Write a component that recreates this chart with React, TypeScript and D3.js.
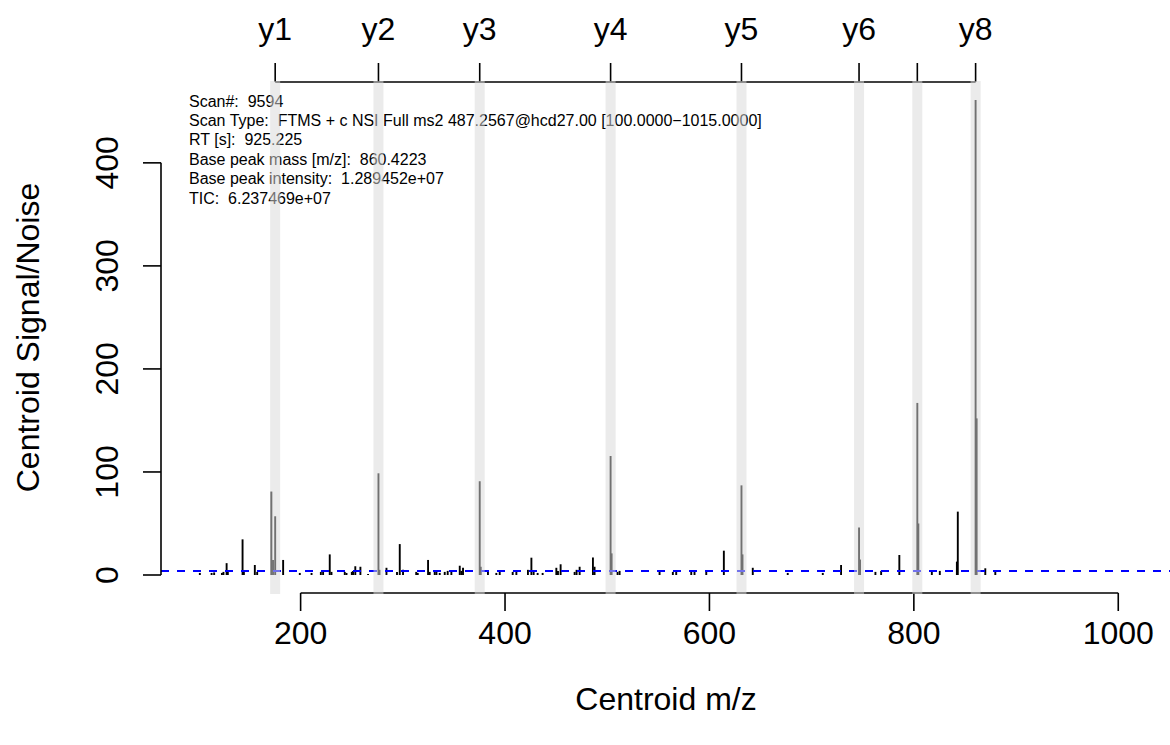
import React, { useEffect, useRef } from "react";
import * as d3 from "d3";

// Centroid peaks (m/z, signal/noise)
const peakMz = [
  101.4, 112.9, 115.4, 123.0, 124.5, 127.6, 128.8, 143.2, 144.5, 155.2, 157.5,
  171.4, 173.0, 175.12, 182.9, 199.2, 210.7, 219.8, 222.0, 228.5, 230.2, 243.2,
  244.9, 250.1, 251.3, 253.5, 258.5, 266.0, 276.17, 277.17, 284.0, 294.3, 297.0,
  300.2, 313.1, 314.6, 324.7, 326.3, 331.2, 332.9, 336.1, 341.0, 343.9, 347.5,
  355.7, 357.3, 358.9, 375.24, 376.24, 383.3, 391.5, 394.8, 407.5, 411.1, 422.4,
  425.8, 428.0, 431.9, 436.8, 450.2, 451.8, 454.4, 468.1, 470.0, 473.0, 486.0,
  487.6, 503.29, 504.29, 510.1, 512.1, 551.2, 564.2, 567.5, 582.2, 585.4, 596.9,
  614.1, 631.35, 632.35, 642.4, 676.6, 710.9, 728.8, 746.38, 747.38, 762.4,
  768.0, 785.8, 803.4, 804.4, 817.6, 825.4, 842.1, 843.0, 860.42, 861.43, 869.9,
  879.7,
];
const peakSN = [
  2, 2, 2.5, 2, 3, 11.5, 3, 34.6, 3, 9.7, 3,
  81, 14.5, 57, 14.6, 2, 2, 3, 4, 20, 3, 3,
  2, 3, 4, 8.5, 8, 1, 98.7, 5, 7, 3, 30,
  5, 3, 2, 14.6, 3, 4, 3, 2, 3, 4, 3,
  9, 4, 7, 91, 8, 3, 2, 4, 3, 3, 5,
  16.8, 4, 2, 2, 7, 4, 10.4, 3, 5, 8, 17,
  8, 115.5, 21, 3, 4, 3, 3, 3, 3, 3, 3,
  23.6, 87, 20, 7, 2, 2, 9.7, 46, 15, 3,
  4, 19.4, 167, 50, 3, 4, 13, 61.5, 461, 152, 6.5,
  3,
];

// Annotated fragment ions
const ionLabels = ["y1", "y2", "y3", "y4", "y5", "y6", "y7", "y8"];
const ionMz = [175.119, 276.167, 375.235, 503.293, 631.352, 746.379, 803.4, 860.422];
const ionLabelShown = [true, true, true, true, true, true, false, true];

const xTicks = [200, 400, 600, 800, 1000];
const yTicks = [0, 100, 200, 300, 400];
const scanRange = [100, 1015];
const noiseLevel = 4;

const infoLines = [
  "Scan#:  9594",
  "Scan Type:  FTMS + c NSI Full ms2 487.2567@hcd27.00 [100.0000\u22121015.0000]",
  "RT [s]:  925.225",
  "Base peak mass [m/z]:  860.4223",
  "Base peak intensity:  1.289452e+07",
  "TIC:  6.237469e+07",
];

const FONT = "'Liberation Sans', Arial, Helvetica, sans-serif";

export default function App() {
  const ref = useRef<SVGSVGElement>(null);

  useEffect(() => {
    document.body.style.margin = "0";
    const svg = d3.select(ref.current);
    svg.selectAll("*").remove();

    const left = 161, right = 1171, top = 81, bottom = 594;
    const xr = scanRange[1] - scanRange[0];
    const x = d3
      .scaleLinear()
      .domain([scanRange[0] - 0.04 * xr, scanRange[1] + 0.04 * xr])
      .range([left, right]);
    const ymax = d3.max(peakSN) as number;
    const y = d3
      .scaleLinear()
      .domain([-0.04 * ymax, 1.04 * ymax])
      .range([bottom, top]);

    const tickLen = 18;
    const g = svg.append("g").style("font-family", FONT);

    // info text
    g.append("g")
      .selectAll("text")
      .data(infoLines)
      .join("text")
      .attr("x", 189)
      .attr("y", (_d, i) => 106.5 + i * 19.4)
      .attr("font-size", 16)
      .attr("fill", "#000")
      .style("white-space", "pre")
      .attr("xml:space", "preserve")
      .text((d) => d);

    // peaks
    const peaks = peakMz.map((m, i) => ({ m, v: peakSN[i] }));
    g.append("g")
      .selectAll("line")
      .data(peaks)
      .join("line")
      .attr("x1", (d) => x(d.m))
      .attr("x2", (d) => x(d.m))
      .attr("y1", y(0))
      .attr("y2", (d) => y(d.v))
      .attr("stroke", "#000")
      .attr("stroke-width", 1.9);

    // noise line
    g.append("line")
      .attr("x1", left)
      .attr("x2", right)
      .attr("y1", y(noiseLevel))
      .attr("y2", y(noiseLevel))
      .attr("stroke", "#0000ff")
      .attr("stroke-width", 2)
      .attr("stroke-dasharray", "8,8");

    // bottom axis
    const xa = g.append("g");
    xa.append("line")
      .attr("x1", x(xTicks[0]))
      .attr("x2", x(xTicks[xTicks.length - 1]))
      .attr("y1", 593)
      .attr("y2", 593)
      .attr("stroke", "#000")
      .attr("stroke-width", 1.6);
    xa.selectAll("line.tick")
      .data(xTicks)
      .join("line")
      .attr("class", "tick")
      .attr("x1", (d) => x(d))
      .attr("x2", (d) => x(d))
      .attr("y1", 593)
      .attr("y2", 593 + tickLen)
      .attr("stroke", "#000")
      .attr("stroke-width", 1.6);
    xa.selectAll("text")
      .data(xTicks)
      .join("text")
      .attr("x", (d) => x(d))
      .attr("y", 643.5)
      .attr("text-anchor", "middle")
      .attr("font-size", 32)
      .text((d) => String(d));

    // left axis
    const ya = g.append("g");
    ya.append("line")
      .attr("x1", left)
      .attr("x2", left)
      .attr("y1", y(yTicks[0]))
      .attr("y2", y(yTicks[yTicks.length - 1]))
      .attr("stroke", "#000")
      .attr("stroke-width", 1.6);
    ya.selectAll("line.tick")
      .data(yTicks)
      .join("line")
      .attr("class", "tick")
      .attr("x1", left)
      .attr("x2", left - tickLen)
      .attr("y1", (d) => y(d))
      .attr("y2", (d) => y(d))
      .attr("stroke", "#000")
      .attr("stroke-width", 1.6);
    ya.selectAll("text")
      .data(yTicks)
      .join("text")
      .attr("transform", (d) => `translate(117.5,${y(d)}) rotate(-90)`)
      .attr("text-anchor", "middle")
      .attr("font-size", 32)
      .text((d) => String(d));

    // top ion axis
    const ta = g.append("g");
    ta.append("line")
      .attr("x1", x(ionMz[0]))
      .attr("x2", x(ionMz[ionMz.length - 1]))
      .attr("y1", 82)
      .attr("y2", 82)
      .attr("stroke", "#000")
      .attr("stroke-width", 1.6);
    ta.selectAll("line.tick")
      .data(ionMz)
      .join("line")
      .attr("class", "tick")
      .attr("x1", (d) => x(d))
      .attr("x2", (d) => x(d))
      .attr("y1", 82)
      .attr("y2", 82 - tickLen - 1)
      .attr("stroke", "#000")
      .attr("stroke-width", 1.6);
    ta.selectAll("text")
      .data(ionLabels.map((l, i) => ({ l, m: ionMz[i], show: ionLabelShown[i] })).filter((d) => d.show))
      .join("text")
      .attr("x", (d) => x(d.m))
      .attr("y", 40)
      .attr("text-anchor", "middle")
      .attr("font-size", 32)
      .text((d) => d.l);

    // ion highlight bands (drawn on top, translucent)
    g.append("g")
      .selectAll("rect")
      .data(ionMz)
      .join("rect")
      .attr("x", (d) => x(d) - 5)
      .attr("width", 10)
      .attr("y", top)
      .attr("height", bottom - top)
      .attr("fill", "rgb(216,216,216)")
      .attr("fill-opacity", 0.52);

    // axis titles
    g.append("text")
      .attr("x", (left + right) / 2)
      .attr("y", 709.5)
      .attr("text-anchor", "middle")
      .attr("font-size", 32)
      .text("Centroid m/z");
    g.append("text")
      .attr("transform", `translate(39,${(top + bottom) / 2}) rotate(-90)`)
      .attr("text-anchor", "middle")
      .attr("font-size", 32)
      .text("Centroid Signal/Noise");
  }, []);

  return (
    <svg
      ref={ref}
      width={1170}
      height={745}
      style={{ position: "absolute", left: 0, top: 0, background: "#fff" }}
    />
  );
}
